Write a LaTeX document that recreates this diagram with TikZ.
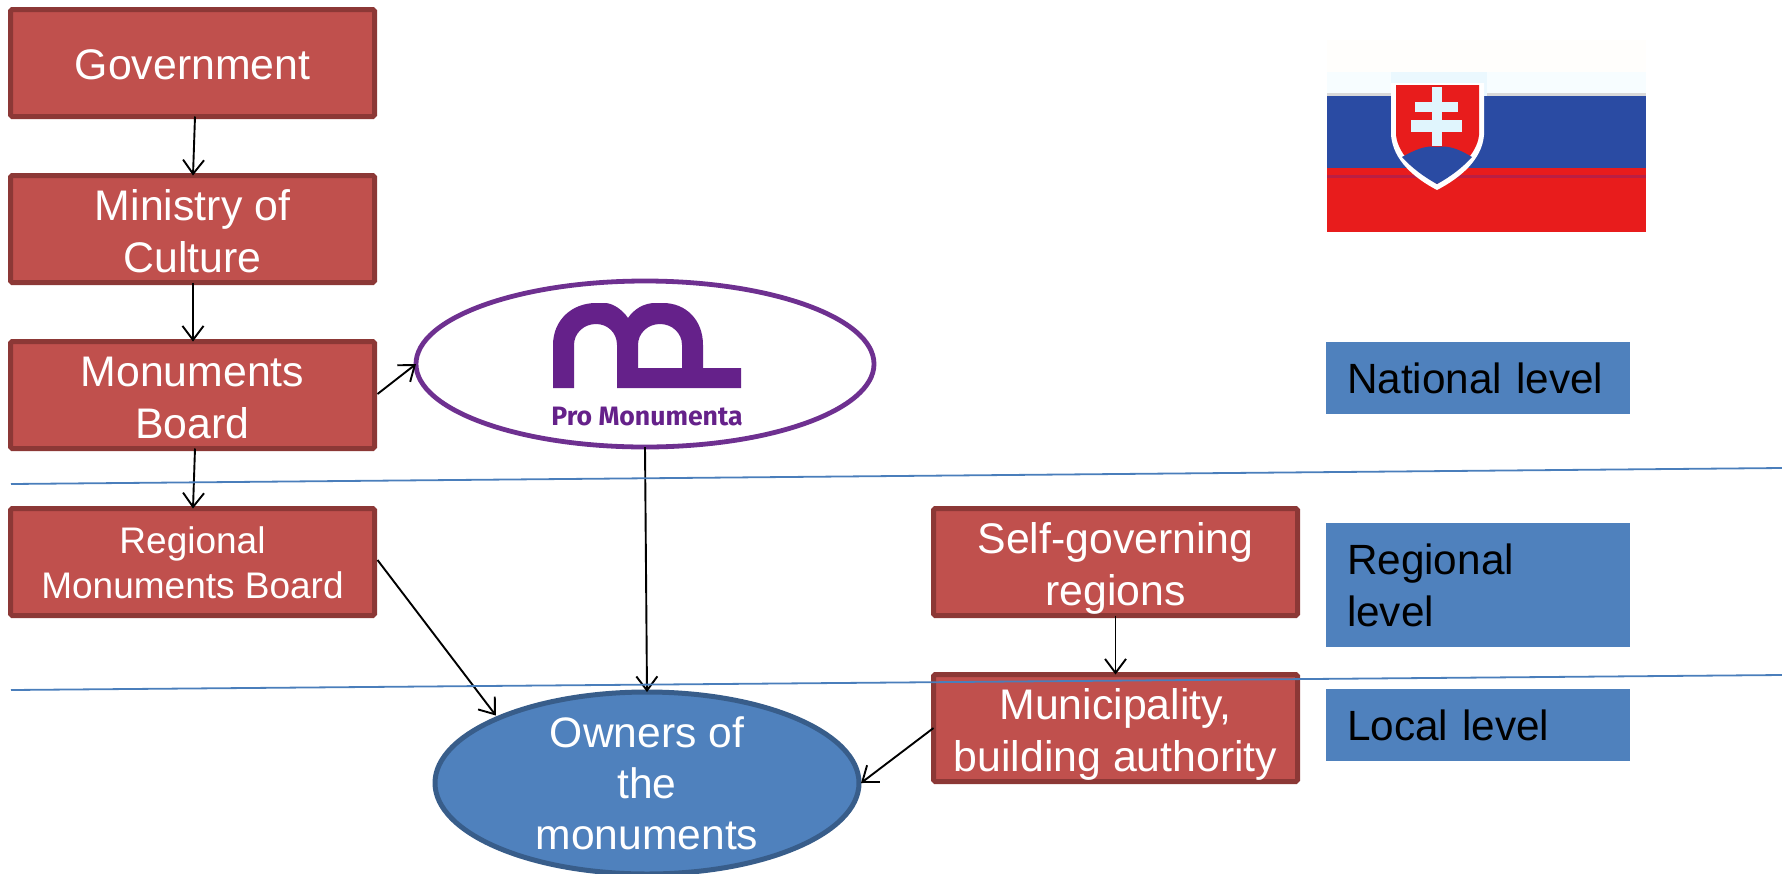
\documentclass[tikz,border=0pt]{standalone}
\usepackage{fontspec}
\setmainfont{Liberation Sans}
\newfontfamily\logofont{Fira Sans}
\usetikzlibrary{shapes.geometric,arrows.meta,calc}
\definecolor{boxfill}{HTML}{C0504D}
\definecolor{boxline}{HTML}{8C3836}
\definecolor{bluefill}{HTML}{4F81BD}
\definecolor{blueline}{HTML}{385D8A}
\definecolor{sepline}{HTML}{4A7EBB}
\definecolor{purp}{HTML}{65218A}
\definecolor{purpline}{HTML}{6E3090}
\definecolor{flagblue}{HTML}{2A4BA3}
\definecolor{flagred}{HTML}{E81C1C}
\newcommand\lowr[1]{\rule{0pt}{\dimexpr 16pt+2\dimexpr #1\relax\relax}}
\tikzset{
  redbox/.style={draw=boxline,fill=boxfill,line width=2.5pt,rounded corners=0.8pt,text=white,
    minimum width=182pt,minimum height=53.5pt,inner sep=0pt,outer sep=0pt,align=center,
    font=\fontsize{21.4}{26}\selectfont},
  levelbox/.style={fill=bluefill,minimum width=152pt,inner sep=0pt,outer sep=0pt,text=black,
    align=left,text width=131pt,font=\fontsize{21.15}{26}\selectfont},
  conn/.style={draw=black,line width=0.95pt,-{Straight Barb[length=7pt,width=10.5pt,line width=0.95pt]}},
  sep/.style={draw=sepline,line width=0.9pt}
}
\begin{document}
\begin{tikzpicture}[x=0.5pt,y=-0.5pt]
\useasboundingbox (0,0) rectangle (1782,873);
% flag
\fill[white!99!orange] (1327,40) rectangle (1646,72);
\fill[white!97!cyan] (1327,72) rectangle (1646,94);
\fill[black!15] (1327,93) rectangle (1646,96);
\fill[flagblue] (1327,96) rectangle (1646,169);
\fill[flagred] (1327,168) rectangle (1646,232);
\fill[white!92!cyan] (1391,72) rectangle (1487,96);
\fill[flagred] (1391,168) rectangle (1487,200);
\fill[purp!35!flagred] (1327,175) rectangle (1646,178);
\fill[white] (1391,83) -- (1484,83) -- (1484,135) .. controls (1482,160) and (1460,178) .. (1437,190) .. controls (1414,178) and (1393,160) .. (1391,135) -- cycle;
\fill[flagred] (1396,85) -- (1479,85) -- (1479,135) .. controls (1477,155) and (1456,172) .. (1437,184) .. controls (1418,172) and (1398,155) .. (1396,135) -- cycle;
\fill[flagblue] (1402,157) .. controls (1415,150) and (1425,145) .. (1437,147) .. controls (1450,145) and (1460,150) .. (1472,157) .. controls (1462,168) and (1450,177) .. (1437,184) .. controls (1424,177) and (1412,168) .. (1402,157) -- cycle;
\fill[white!88!cyan] (1432,87) rectangle (1442,146);
\fill[white!88!cyan] (1415,102) rectangle (1458,112);
\fill[white!88!cyan] (1411,120) rectangle (1462,132);
% nodes
\node[redbox] (gov) at (192.5,63) {\lowr{0.6pt}Government};
\node[redbox] (min) at (192.5,229) {\lowr{1.1pt}Ministry of\\Culture};
\node[redbox] (mon) at (192.5,395) {\lowr{1.1pt}Monuments\\Board};
\node[redbox,font=\fontsize{18.5}{22.7}\selectfont] (reg) at (192.5,562) {\rule{0pt}{14pt}Regional\\Monuments Board};
\node[redbox] (self) at (1115.5,562) {\lowr{2.9pt}Self-governing\\regions};
\node[redbox] (muni) at (1115.5,728) {\lowr{2.9pt}Municipality,\\building authority};
\node[ellipse,draw=purpline,fill=white,line width=2.4pt,minimum width=229pt,minimum height=83pt,inner sep=0pt,outer sep=0pt] (pro) at (645,364) {};
\node[ellipse,draw=blueline,fill=bluefill,line width=2.5pt,minimum width=212pt,minimum height=91pt,inner sep=0pt,outer sep=0pt] (own) at (647,783) {};
\node[text=white,align=center,inner sep=0pt,font=\fontsize{21.3}{25.5}\selectfont] (ownlabel) at (647,783) {Owners of\\the\\monuments};
\node[levelbox,minimum height=36pt] (natl) at (1478,378) {National level};
\node[levelbox,minimum height=62pt] (regl) at (1478,585) {Regional\\level};
\node[levelbox,minimum height=36pt] (locl) at (1478,725) {Local level};
% logo
\fill[purp,even odd rule] (553,388) -- (553,345) .. controls (553,320) and (572,303) .. (596,303) -- (605,303) .. controls (612,303) and (622,309) .. (628,318) .. controls (634,309) and (644,303) .. (655,303) -- (663,303) .. controls (686,303) and (703,320) .. (703,345) -- (703,368) -- (741,368) -- (741,388) -- (617,388) -- (617,345) .. controls (617,333) and (608,324) .. (596,324) .. controls (584,324) and (574,333) .. (574,345) -- (574,388) -- cycle
 (638,368) -- (638,345) .. controls (638,333) and (648,324) .. (660,324) .. controls (672,324) and (682,333) .. (682,345) -- (682,368) -- cycle;
\node[text=purp,inner sep=0pt,font=\logofont\bfseries\fontsize{13.3}{15}\selectfont] (protext) at (647,417) {Pro Monumenta};
% connectors
\draw[conn] ($(gov.south)+(2.5,0)$) -- ($(min.north)+(0.5,0)$);
\draw[conn] ($(min.south)+(0.5,0)$) -- ($(mon.north)+(0.5,0)$);
\draw[conn] ($(mon.south)+(2.5,0)$) -- ($(reg.north)+(0.5,0)$);
\draw[conn] ($(mon.east)+(3,-1)$) -- (pro.west);
\draw[conn] ($(reg.east)+(3,-2)$) -- ($(own.156)+(-4,-2)$);
\draw[conn] (pro.south) -- (own.north);
\draw[conn] (self.south) -- (muni.north);
\draw[conn] (muni.west) -- ($(own.east)+(2,0)$);
% separators
\coordinate (s1a) at (11,484);
\coordinate (s1b) at (1782,468);
\coordinate (s2a) at (11,690);
\coordinate (s2b) at (1782,675);
\draw[sep] (s1a) -- (s1b);
\draw[sep] (s2a) -- (s2b);
\end{tikzpicture}
\end{document}
